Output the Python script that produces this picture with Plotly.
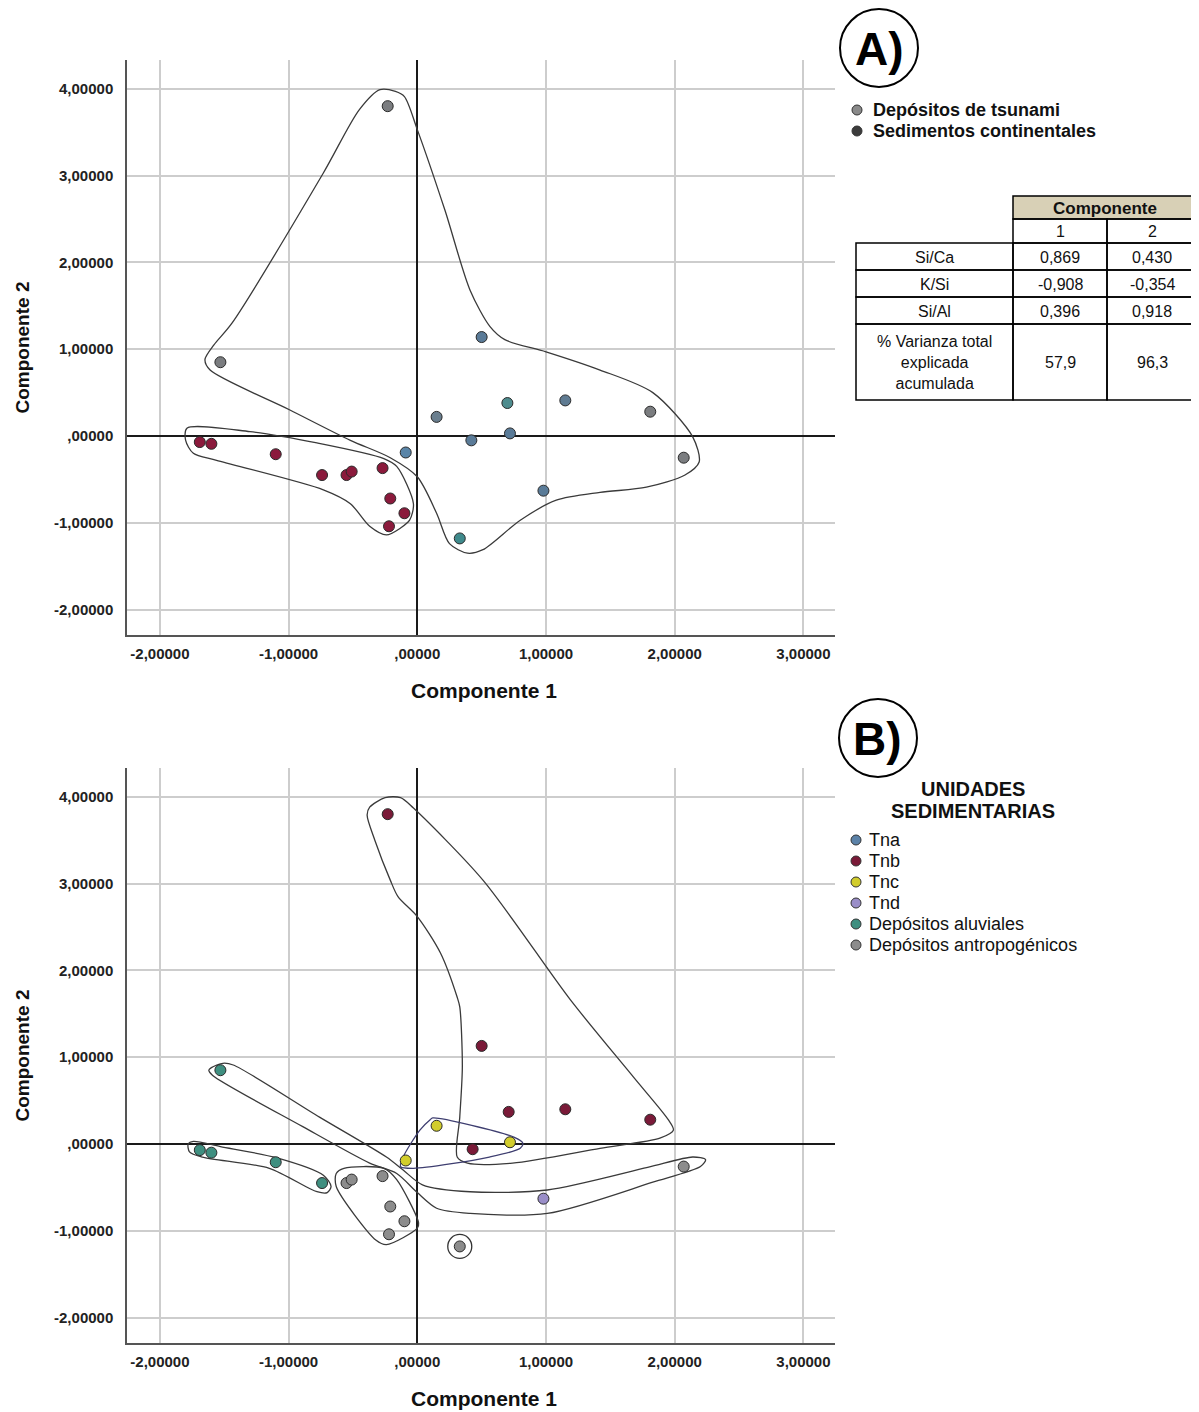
import plotly.graph_objects as go

# ---------------- data ----------------
# Panel A: component scores by origin
tsu_x = [-0.23, -1.53, 0.50, 0.70, 1.15, 0.15, 0.42, 0.72, -0.09, 0.98, 0.33, 1.81, 2.07]
tsu_y = [3.80, 0.85, 1.14, 0.38, 0.41, 0.22, -0.05, 0.03, -0.19, -0.63, -1.18, 0.28, -0.25]
tsu_col = ["#7b7d80", "#7b7d80", "#5a7b98", "#4e8c8e", "#5f7b92", "#6a7e8e", "#5a7b98",
           "#5a7b98", "#5a85a8", "#5a7b98", "#3f8a8c", "#7b7d80", "#7b7d80"]
con_x = [-1.69, -1.60, -1.10, -0.74, -0.55, -0.51, -0.27, -0.21, -0.10, -0.22]
con_y = [-0.07, -0.09, -0.21, -0.45, -0.45, -0.41, -0.37, -0.72, -0.89, -1.04]

# Panel B: same scores by sedimentary unit
tna_x, tna_y = [], []
tnb_x = [-0.23, 0.50, 0.71, 1.15, 1.81, 0.43]
tnb_y = [3.80, 1.13, 0.37, 0.40, 0.28, -0.06]
tnc_x = [0.15, 0.72, -0.09]
tnc_y = [0.21, 0.02, -0.19]
tnd_x = [0.98]
tnd_y = [-0.63]
alu_x = [-1.53, -1.69, -1.60, -1.10, -0.74]
alu_y = [0.85, -0.07, -0.10, -0.21, -0.45]
ant_x = [2.07, 0.33, -0.55, -0.51, -0.27, -0.21, -0.10, -0.22]
ant_y = [-0.26, -1.18, -0.45, -0.41, -0.37, -0.72, -0.89, -1.04]

# hand-drawn group outlines (data units)
hullA1_x = [-0.29, -0.17, -0.10, 0.00, 0.215, 0.41, 0.565, 0.68, 1.00, 1.42, 1.83, 2.14, 2.19, 2.08,
            1.78, 1.42, 1.08, 0.80, 0.51, 0.39, 0.25, 0.15, 0.00, -0.21, -0.52, -0.99, -1.61, -1.65,
            -1.58, -1.44, -0.73, -0.45]
hullA1_y = [3.99, 3.97, 3.91, 3.53, 2.60, 1.68, 1.26, 1.11, 0.97, 0.76, 0.50, -0.01, -0.30, -0.45,
            -0.59, -0.65, -0.74, -0.97, -1.31, -1.35, -1.24, -0.89, -0.47, -0.25, -0.05, 0.30, 0.76,
            0.88, 1.05, 1.30, 3.03, 3.76]
hullA2_x = [-1.79, -1.30, -0.78, -0.26, -0.16, -0.03, -0.06, -0.13, -0.24, -0.37, -0.52, -0.73,
            -1.56, -1.74, -1.80]
hullA2_y = [0.09, 0.05, -0.08, -0.26, -0.35, -0.78, -0.97, -1.06, -1.14, -1.04, -0.78, -0.62,
            -0.28, -0.20, -0.05]
hullB1_x = [-0.37, -0.25, -0.13, -0.03, 0.51, 1.19, 1.68, 1.95, 1.99, 1.89, 1.42, 0.74, 0.39, 0.31,
            0.33, 0.35, 0.33, 0.31, 0.18, 0.00, -0.15, -0.21, -0.33, -0.39]
hullB1_y = [3.88, 3.99, 3.99, 3.87, 3.04, 1.66, 0.77, 0.28, 0.16, 0.07, -0.05, -0.22, -0.22, -0.15,
            0.31, 0.89, 1.58, 1.69, 2.20, 2.62, 2.85, 3.04, 3.50, 3.79]
hullB2_x = [0.12, 0.75, 0.82, 0.80, 0.56, -0.03, -0.13, -0.11, 0.02, 0.10]
hullB2_y = [0.30, 0.08, 0.01, -0.05, -0.15, -0.28, -0.26, -0.15, 0.16, 0.28]
hullB3_x = [-1.60, -1.51, -1.43, -0.76, -0.24, -0.11, 0.04, 0.41, 1.01, 1.79, 2.14, 2.24,
            2.20, 1.83, 1.01, 0.41, 0.15, 0.00, -0.16, -0.37, -0.89, -1.59, -1.62]
hullB3_y = [0.88, 0.93, 0.91, 0.31, -0.15, -0.30, -0.47, -0.55, -0.53, -0.27, -0.15, -0.18,
            -0.26, -0.44, -0.80, -0.80, -0.74, -0.56, -0.34, -0.22, 0.20, 0.79, 0.85]
hullB4_x = [-1.78, -1.74, -1.53, -1.09, -0.73, -0.67, -0.70, -0.78, -1.15, -1.67, -1.77]
hullB4_y = [0.00, 0.03, -0.03, -0.16, -0.36, -0.49, -0.56, -0.55, -0.28, -0.15, -0.09]
hullB5_x = [-0.63, -0.57, -0.26, -0.16, 0.01, 0.00, -0.24, -0.32, -0.63]
hullB5_y = [-0.34, -0.28, -0.28, -0.41, -0.91, -0.97, -1.16, -1.11, -0.49]

# axis ticks
tick_x = [-2, -1, 0, 1, 2, 3]
tick_x_text = ["-2,00000", "-1,00000", ",00000", "1,00000", "2,00000", "3,00000"]
tick_y = [-2, -1, 0, 1, 2, 3, 4]
tick_y_text = ["-2,00000", "-1,00000", ",00000", "1,00000", "2,00000", "3,00000", "4,00000"]

# legends
legA_names = ["Depósitos de tsunami", "Sedimentos continentales"]
legA_colors = ["#8a8a8a", "#3c3c3c"]
unit_names = ["Tna", "Tnb", "Tnc", "Tnd", "Depósitos aluviales", "Depósitos antropogénicos"]
unit_colors = ["#5b82a8", "#7a1a38", "#d2cd2c", "#9a8ec8", "#3f8f80", "#8c8c8c"]

# loadings table
table_rows = ["Si/Ca", "K/Si", "Si/Al", "% Varianza total<br>explicada<br>acumulada"]
table_cols = ["1", "2"]
comp_1 = ["0,869", "-0,908", "0,396", "57,9"]
comp_2 = ["0,430", "-0,354", "0,918", "96,3"]

# ---------------- layout helpers ----------------
# the page body adds an 8px margin, so the figure is drawn 8px smaller
OFF = 8
W, H = 1199 - OFF, 1412 - OFF
L, T = 127 - OFF, 60 - OFF
PW, PH = 708, 1283
R, B = W - L - PW, H - T - PH
FONT = "Liberation Sans, Arial, sans-serif"


def px(x):  # page pixel -> paper
    return (x - 127) / PW


def py(y):
    return (1343 - y) / PH


fig = go.Figure()


def hull(xs, ys, axis, color="#3a3a3a"):
    fig.add_trace(go.Scatter(
        x=xs + xs[:1], y=ys + ys[:1], mode="lines",
        line=dict(color=color, width=1.3, shape="spline", smoothing=0.8),
        xaxis="x" + axis, yaxis="y" + axis, showlegend=False, hoverinfo="skip"))


mk_line = dict(color="#2a2a2a", width=1)

# ---- Panel A
hull(hullA1_x, hullA1_y, "")
hull(hullA2_x, hullA2_y, "")
fig.add_trace(go.Scatter(x=tsu_x, y=tsu_y, mode="markers", name=legA_names[0], showlegend=False,
                         marker=dict(size=11, color=tsu_col, line=mk_line)))
fig.add_trace(go.Scatter(x=con_x, y=con_y, mode="markers", name=legA_names[1], showlegend=False,
                         marker=dict(size=11, color="#8b1a3c", line=mk_line)))

# ---- Panel B
hull(hullB1_x, hullB1_y, "2")
hull(hullB3_x, hullB3_y, "2")
hull(hullB4_x, hullB4_y, "2")
hull(hullB5_x, hullB5_y, "2")
hull(hullB2_x, hullB2_y, "2", color="#3e3e70")
unit_pts = [(tna_x, tna_y), (tnb_x, tnb_y), (tnc_x, tnc_y), (tnd_x, tnd_y),
            (alu_x, alu_y), (ant_x, ant_y)]
for name, (xs, ys), col in zip(unit_names, unit_pts, unit_colors):
    if not xs:
        continue
    fig.add_trace(go.Scatter(x=xs, y=ys, mode="markers", name=name, xaxis="x2", yaxis="y2",
                             showlegend=False, marker=dict(size=11, color=col, line=mk_line)))
# ring around the isolated anthropogenic sample
fig.add_trace(go.Scatter(x=ant_x[1:2], y=ant_y[1:2], mode="markers", xaxis="x2", yaxis="y2",
                         showlegend=False, hoverinfo="skip",
                         marker=dict(size=24, color="rgba(0,0,0,0)",
                                     line=dict(color="#333", width=1.3))))

axis_common = dict(range=[(127 - 417.3) / 128.7, (835 - 417.3) / 128.7], tickvals=tick_x,
                   ticktext=tick_x_text, showgrid=True, gridcolor="#cdcdcd", gridwidth=2,
                   zeroline=True, zerolinecolor="#1a1a1a", zerolinewidth=1.5,
                   showline=True, linecolor="#555", linewidth=1.5, ticks="",
                   ticklabelstandoff=4,
                   tickfont=dict(family=FONT, size=15, color="#222", weight="bold"))
yr = [(436 - 635) / 86.8, (436 - 60) / 86.8]
yaxis_common = dict(axis_common, range=yr, tickvals=tick_y, ticktext=tick_y_text,
                    ticklabelstandoff=9)

fig.update_layout(
    width=W, height=H, paper_bgcolor="white", plot_bgcolor="white",
    margin=dict(l=L, r=R, t=T, b=B),
    font=dict(family=FONT, color="#111"),
    showlegend=False,
    xaxis=dict(axis_common, domain=[0, 1], anchor="y"),
    yaxis=dict(yaxis_common, domain=[py(635), 1], anchor="x"),
    xaxis2=dict(axis_common, domain=[0, 1], anchor="y2"),
    yaxis2=dict(yaxis_common, domain=[0, py(768)], anchor="x2"),
)

ann = []
shapes = []


def txt(x, y, s, size=15, bold=False, xanchor="center", angle=0, color="#111"):
    ann.append(dict(x=px(x), y=py(y), xref="paper", yref="paper", showarrow=False,
                    text=("<b>%s</b>" % s) if bold else s, textangle=angle,
                    xanchor=xanchor, yanchor="middle", align="center",
                    font=dict(size=size, family=FONT, color=color)))


def dot(x, y, col, r=5):
    shapes.append(dict(type="circle", xref="paper", yref="paper", xsizemode="pixel",
                       ysizemode="pixel", xanchor=px(x), yanchor=py(y), x0=-r, x1=r, y0=-r, y1=r,
                       fillcolor=col, line=dict(color="#333", width=1)))


# axis titles
for yc in ((60 + 635) / 2, (768 + 1343) / 2):
    txt(22, yc, "Componente 2", size=19, bold=True, angle=-90)
for yc in (690, 1398):
    txt(484, yc, "Componente 1", size=21, bold=True)

# circled panel labels
for lab, cx, cy in (("A)", 879, 48), ("B)", 878, 738)):
    shapes.append(dict(type="circle", xref="paper", yref="paper", x0=px(cx - 39), x1=px(cx + 39),
                       y0=py(cy + 39), y1=py(cy - 39), line=dict(color="black", width=2)))
    txt(cx, cy + 1, lab, size=46, bold=True, color="black")

# legend A
for i, (name, col) in enumerate(zip(legA_names, legA_colors)):
    y = 110 + 21 * i
    dot(857, y, col)
    txt(871, y, name, size=18, bold=True, xanchor="left")

# legend B
txt(973, 789, "UNIDADES", size=20, bold=True)
txt(973, 811, "SEDIMENTARIAS", size=20, bold=True)
for i, (name, col) in enumerate(zip(unit_names, unit_colors)):
    y = 840 + 21 * i
    dot(856, y, col)
    txt(867, y, name, size=18, xanchor="left")

# loadings table drawn with shapes
c0, c1, c2, c3 = 856, 1013, 1107, 1197
r_head, r_sub = 196, 219
r_rows = [243, 270, 297, 324, 400]
line = dict(color="black", width=1.5)


def rect(x0, y0, x1, y1, fill="rgba(0,0,0,0)"):
    shapes.append(dict(type="rect", xref="paper", yref="paper", x0=px(x0), x1=px(x1),
                       y0=py(y1), y1=py(y0), line=line, fillcolor=fill, layer="above"))


rect(c1, r_head, c3, r_sub, fill="#d8d0b6")
txt((c1 + c3) / 2, (r_head + r_sub) / 2 + 1, "Componente", size=17, bold=True)
for i, lab in enumerate(table_cols):
    xa, xb = [(c1, c2), (c2, c3)][i]
    rect(xa, r_sub, xb, r_rows[0])
    txt((xa + xb) / 2, (r_sub + r_rows[0]) / 2 + 1, lab, size=16)
for j, name in enumerate(table_rows):
    ya, yb = r_rows[j], r_rows[j + 1]
    rect(c0, ya, c1, yb)
    rect(c1, ya, c2, yb)
    rect(c2, ya, c3, yb)
    txt((c0 + c1) / 2, (ya + yb) / 2 + 1, name, size=16)
    txt((c1 + c2) / 2, (ya + yb) / 2 + 1, comp_1[j], size=16)
    txt((c2 + c3) / 2, (ya + yb) / 2 + 1, comp_2[j], size=16)

fig.update_layout(annotations=ann, shapes=shapes)
fig.write_html("out.html")
